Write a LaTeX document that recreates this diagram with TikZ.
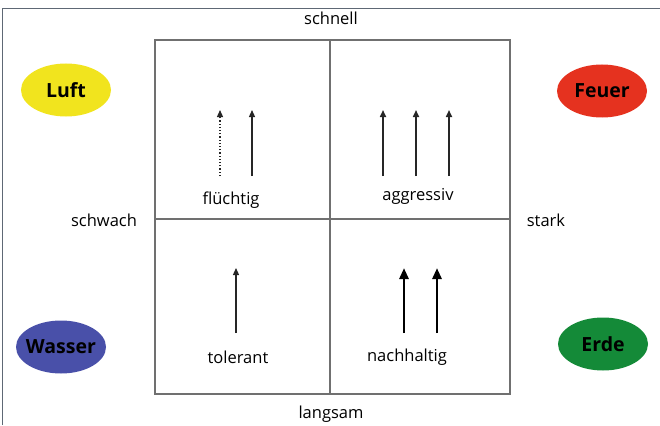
\documentclass[tikz,border=0pt]{standalone}
\usepackage{fontspec}
\setmainfont{Open Sans}
\usetikzlibrary{arrows.meta,shapes.geometric}
\definecolor{framec}{HTML}{5E6875}
\definecolor{gridc}{HTML}{707070}
\definecolor{luftc}{HTML}{F1E41E}
\definecolor{feuerc}{HTML}{E5321F}
\definecolor{wasserc}{HTML}{4950A9}
\definecolor{erdec}{HTML}{148A38}
\tikzset{
  lbl/.style={font=\fontsize{16.5}{18}\selectfont, inner sep=0pt},
  elem/.style={ellipse, minimum width=90pt, minimum height=53pt, inner xsep=-5pt, inner ysep=0pt, font=\fontsize{19.5}{21}\selectfont\bfseries},
  arr/.style={-{Triangle[length=7pt,width=6pt]}, line width=1.2pt, black!85},
  thickarr/.style={-{Triangle[length=11pt,width=9pt]}, line width=2.8pt, black},
  gridline/.style={draw=gridc, line width=1.4pt}
}
\begin{document}
\begin{tikzpicture}[x=1pt,y=-1pt]
\useasboundingbox (0,0) rectangle (660,425);
% outer frame
\draw[framec, line width=0.8pt] (2,425) -- (2,8) -- (660,8);
% grid
\draw[gridline] (155,40) rectangle (510,394);
\draw[gridline] (330,40) -- (330,394);
\draw[gridline] (155,219) -- (510,219);
% axis labels
\node[lbl] (schnell) at (331,18) {schnell};
\node[lbl] (langsam) at (331,414) {langsam};
\node[lbl] (schwach) at (104,220) {schwach};
\node[lbl] (stark) at (546,220) {stark};
% elements
\node[elem, fill=luftc] (luft) at (66,90) {Luft};
\node[elem, fill=feuerc] (feuer) at (602,91) {Feuer};
\node[elem, fill=wasserc] (wasser) at (61,347) {Wasser};
\node[elem, fill=erdec] (erde) at (603,344) {Erde};
% quadrant labels
\node[lbl] (fluechtig) at (231,200) {flüchtig};
\node[lbl] (aggressiv) at (418,196) {aggressiv};
\node[lbl] (tolerant) at (238,357) {tolerant};
\node[lbl] (nachhaltig) at (407,357) {nachhaltig};
% arrows top-left
\coordinate (a1s) at (220,176); \coordinate (a1e) at (220,110);
\coordinate (a2s) at (252,176); \coordinate (a2e) at (252,110);
\draw[arr, dotted] (a1s) -- (a1e);
\draw[arr] (a2s) -- (a2e);
% arrows top-right
\coordinate (b1s) at (383,176); \coordinate (b1e) at (383,110);
\coordinate (b2s) at (416,176); \coordinate (b2e) at (416,110);
\coordinate (b3s) at (449,176); \coordinate (b3e) at (449,110);
\draw[arr, line width=1.6pt] (b1s) -- (b1e);
\draw[arr, line width=1.6pt] (b2s) -- (b2e);
\draw[arr, line width=1.6pt] (b3s) -- (b3e);
% arrow bottom-left
\coordinate (c1s) at (236,333); \coordinate (c1e) at (236,268);
\draw[arr] (c1s) -- (c1e);
% arrows bottom-right
\coordinate (d1s) at (404,333); \coordinate (d1e) at (404,268);
\coordinate (d2s) at (437,333); \coordinate (d2e) at (437,268);
\draw[thickarr] (d1s) -- (d1e);
\draw[thickarr] (d2s) -- (d2e);
\end{tikzpicture}
\end{document}
